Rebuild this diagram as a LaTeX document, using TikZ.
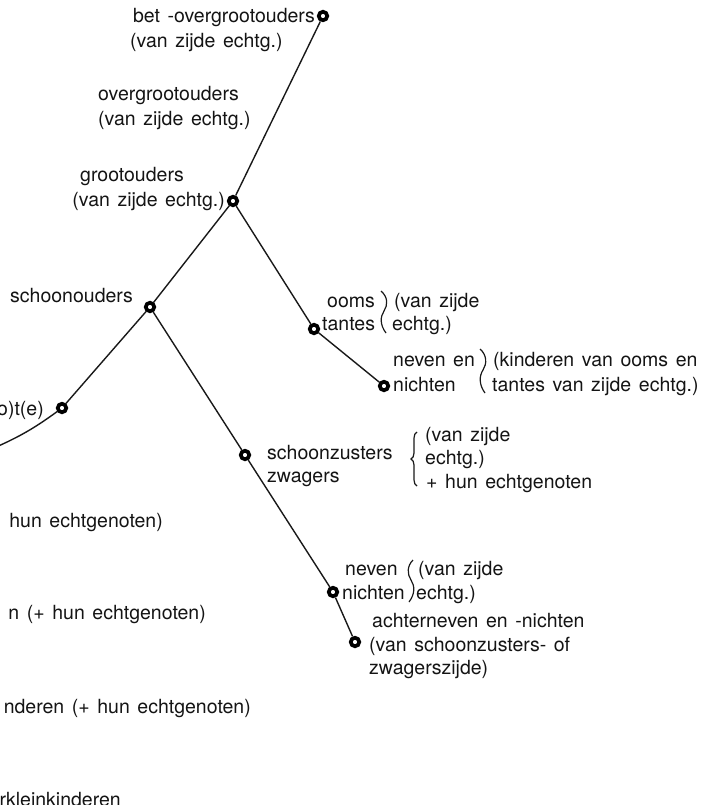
\documentclass[tikz,border=0pt]{standalone}
\usepackage{fontspec}
\setmainfont{TeX Gyre Heros}[WordSpace=1.4]
\usetikzlibrary{decorations.pathreplacing}
\begin{document}
\begin{tikzpicture}[x=1pt,y=-1pt,
  lbl/.style={inner sep=0pt,font=\fontsize{19.5}{23}\selectfont,text=black!92},
  lw/.style={lbl,anchor=base west},
  le/.style={lbl,anchor=base east},
  dot/.style={circle,draw=black,fill=white,line width=3.7pt,minimum size=8.5pt,inner sep=0pt},
  conn/.style={line width=1.4pt,draw=black!90},
  squig/.style={line width=1.2pt,draw=black!90}]
\useasboundingbox (0,0) rectangle (723,805);
\clip (0,0) rectangle (723,805);
% positions of the circles
\coordinate (bo) at (323,16);
\coordinate (go) at (233,201);
\coordinate (so) at (150,307);
\coordinate (eg) at (62,408);
\coordinate (ot) at (314,329);
\coordinate (nn) at (384,386);
\coordinate (sz) at (245,455);
\coordinate (nv) at (333,592);
\coordinate (an) at (355,642);
\coordinate (lx) at (-6,448);
% circles
\node[dot] (c-bo) at (bo) {};
\node[dot] (c-go) at (go) {};
\node[dot] (c-so) at (so) {};
\node[dot] (c-eg) at (eg) {};
\node[dot] (c-ot) at (ot) {};
\node[dot] (c-nn) at (nn) {};
\node[dot] (c-sz) at (sz) {};
\node[dot] (c-nv) at (nv) {};
\node[dot] (c-an) at (an) {};
% connectors
\draw[conn] (c-bo) -- (c-go);
\draw[conn] (c-go) -- (c-so);
\draw[conn] (c-so) -- (c-eg);
\draw[conn] (c-go) -- (c-ot);
\draw[conn] (c-ot) -- (c-nn);
\draw[conn] (c-so) -- (c-sz);
\draw[conn] (c-sz) -- (c-nv);
\draw[conn] (c-nv) -- (c-an);
\draw[conn] (c-eg) to[bend left=6] (lx);
% labels
\node[le] (t1) at (315,23) {bet -overgrootouders};
\node[lw] (t2) at (130,48) {(van zijde echtg.)};
\node[lw] (t3) at (98,101) {overgrootouders};
\node[lw] (t4) at (98,126) {(van zijde echtg.)};
\node[lw] (t5) at (80,182) {grootouders};
\node[le] (t6) at (225,207) {(van zijde echtg.)};
\node[le] (t7) at (133,302) {schoonouders};
\node[le] (t8) at (44,415) {o)t(e)};
\node[lw] (t9) at (327,307) {ooms};
\node[lw] (t10) at (322,330) {tantes};
\node[lw] (t11) at (394,307) {(van zijde};
\node[lw] (t12) at (392,330) {echtg.)};
\node[lw] (t13) at (393,366) {neven en};
\node[lw] (t14) at (393,391) {nichten};
\node[lw] (t15) at (493,366) {(kinderen van ooms en};
\node[lw] (t16) at (492,391) {tantes van zijde echtg.)};
\node[lw] (t17) at (267,459) {schoonzusters};
\node[lw] (t18) at (267,482) {zwagers};
\node[lw] (t19) at (425,441) {(van zijde};
\node[lw] (t20) at (425,464) {echtg.)};
\node[lw] (t21) at (426,488) {+ hun echtgenoten};
\node[lw] (t22) at (345,575) {neven};
\node[lw] (t23) at (342,599) {nichten};
\node[lw] (t24) at (418,575) {(van zijde};
\node[lw] (t25) at (416,599) {echtg.)};
\node[lw] (t26) at (372,627) {achterneven en -nichten};
\node[lw] (t27) at (369,651) {(van schoonzusters- of};
\node[lw] (t28) at (369,674) {zwagerszijde)};
\node[le] (t29) at (163,527) {hun echtgenoten)};
\node[le] (t30) at (206,619) {n (+ hun echtgenoten)};
\node[le] (t31) at (251,713) {nderen (+ hun echtgenoten)};
\node[le] (t32) at (121,806) {rkleinkinderen};
% braces
\draw[squig] (381,291) .. controls (388,297) and (388,305) .. (384,311)
  .. controls (380,317) and (380,325) .. (386,333);
\draw[squig] (480,349) .. controls (487,355) and (487,364) .. (483,370)
  .. controls (479,376) and (479,385) .. (485,393);
\draw[squig,decorate,decoration={brace,amplitude=6pt}] (417,486) -- (417,432);
\draw[squig] (413,560) .. controls (407,566) and (407,574) .. (411,580)
  .. controls (415,586) and (415,594) .. (409,602);
\end{tikzpicture}
\end{document}
